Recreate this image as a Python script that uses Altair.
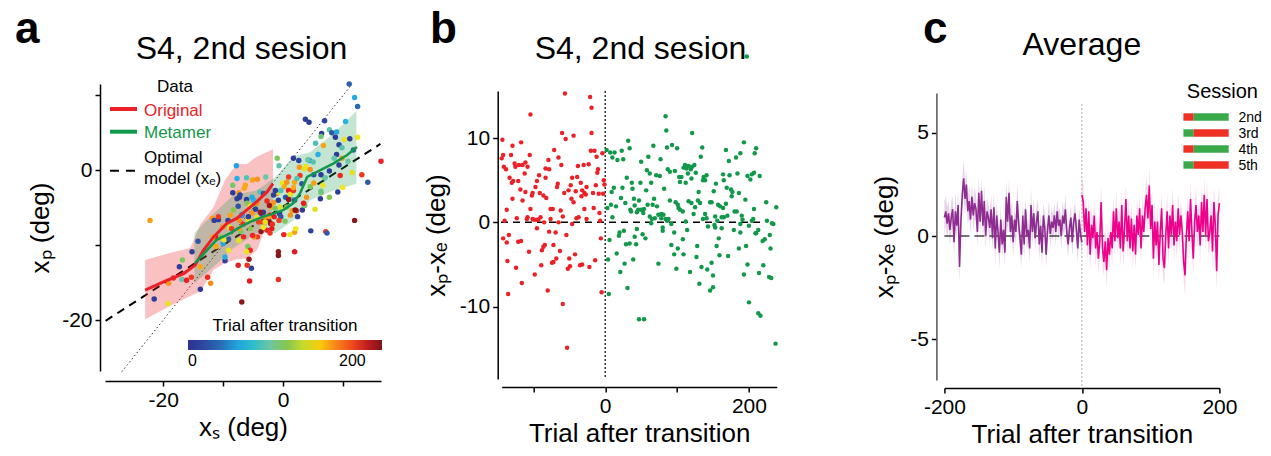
import altair as alt
import pandas as pd

FONT = "Liberation Sans"
RED = "#ec2027"
GREEN = "#12984a"
DUMMY = pd.DataFrame({"k": [0]})

# ---------------- Panel a data ----------------
a_xs = [-22.2, -21.5, -19.2, -19.1, -18.3, -17.3, -16.8, -16.9, -16.1, -15.3,
        -15.2, -13.8, -13.8, -14.2, -12.6, -12.1, -11.8, -11.2, -11.1, -10.8,
        -10.4, -10.1, -10.0, -9.7, -9.1, -9.1, -8.9, -8.8, -8.4, -8.4,
        -8.3, -7.8, -7.7, -7.7, -7.5, -7.4, -7.3, -7.1, -6.9, -6.7,
        -6.6, -6.3, -6.1, -6.1, -6.0, -5.9, -5.8, -5.5, -5.2, -5.1,
        -4.9, -4.7, -4.6, -4.4, -4.3, -4.9, -5.7, -5.6, -5.3, -6.0,
        -6.9, -7.5, -3.9, -3.3, -2.9, -2.7, -3.6, -3.4, -3.0, -2.4,
        -2.2, -2.1, -1.9, -1.6, -2.7, -3.7, -3.3, -4.1, -1.3, -1.1,
        -0.9, -0.8, -0.6, -0.4, -1.0, -0.7, -0.1, 0.2, 0.4, 0.6,
        0.6, 0.9, 1.2, 1.4, 1.5, 1.7, 1.9, 1.9, 2.2, 2.4,
        1.7, 2.6, 2.7, 3.5, 3.8, 2.8, 2.3, 3.1, 3.2, 1.9,
        1.1, 0.1, 1.9, -0.8, -0.8, -0.8, -0.7, -1.5, 3.6, 5.3,
        6.3, 7.7, 9.1, 9.9, 6.2, 4.6, 7.1, 7.3, 11.9, 3.7,
        4.3, 6.9, 11.0, 11.9, 12.4, 10.4, 7.7, 8.1, 8.9, 8.7,
        6.4, 6.3, 5.4, 6.7, 9.3, 10.2, 11.1, 12.4, 4.4, 5.8,
        8.9, 8.5, 9.8, 10.8, 11.7, 9.3, 9.5, 11.5, 13.1, 14.1,
        16.3, 6.9, 5.1, 4.5, 6.3, 7.7, 7.0, 6.6, 5.1, 6.3,
        4.5, 3.9, 3.4, 0.9, 1.7, -0.4, -1.3, -1.6, 0.9, -2.3,
        -0.5, 2.0, 1.2, -3.3, -2.4, -1.8, -1.9, -2.2, 0.3, 2.1,
        5.0, 4.1, 9.8, -7.3, -9.2, -11.7, -5.5, -4.3, -7.2, -6.5,
        -5.2, -4.4, -5.5, -5.8, -3.8, -3.0, -6.9, -8.6, -7.3, -5.1,
        -6.1, -7.4, -9.7, -9.9, -11.5, -10.8]
a_xp = [-6.7, -17.2, -17.8, -15.1, -14.4, -12.9, -12.0, -14.6, -14.7, -14.3,
        -10.9, -12.9, -15.9, -9.5, -14.3, -15.1, -6.4, -10.2, -9.0, -6.6,
        -8.9, -7.6, -9.8, -12.1, -9.2, -10.7, -7.6, -6.0, -3.0, -2.0,
        -5.3, 0.6, -1.1, -3.8, -4.8, -3.0, -6.7, -8.2, -6.0, -7.2,
        -8.9, -2.0, -1.0, -3.9, -4.4, -10.2, -6.6, -7.8, -5.7, -1.3,
        -4.0, -4.7, -5.2, -6.3, -8.9, -8.9, -11.9, -14.8, -13.1, -12.7,
        -17.6, -12.7, -2.9, -3.1, -0.9, -4.1, -5.8, -6.9, -6.2, -6.7,
        -6.0, -7.1, -4.9, -4.3, -8.0, -8.2, -7.6, -6.9, -5.1, -3.1,
        -2.9, -4.0, -5.8, -6.2, 1.6, 0.6, -1.7, -2.2, -3.6, -4.9,
        -1.6, -2.7, -3.2, -3.9, -5.4, -2.7, -1.6, -4.0, -5.4, -6.2,
        1.6, 1.3, 0.4, 0.2, 0.5, -0.7, -1.1, -1.8, -5.3, -8.3,
        -8.6, -8.6, -10.9, -10.9, -11.4, -14.6, -6.7, -6.2, -4.7, -5.2,
        -3.0, -3.6, -2.9, -2.3, -3.8, -8.1, -8.2, -8.4, -6.7, 6.8,
        6.4, 6.6, 11.5, 9.7, 8.5, 6.5, 5.4, 5.0, 5.1, 4.4,
        4.9, 4.5, 3.6, 3.3, 3.4, 4.1, 4.2, 4.4, 1.3, 2.1,
        2.1, 1.6, 1.6, 1.2, 2.7, 0.7, -0.7, -0.3, -0.6, -1.6,
        1.2, -1.0, -0.6, 0.1, -0.6, -0.1, -1.0, -2.0, -1.7, -2.8,
        -2.2, -3.6, -4.4, -0.9, -2.3, -2.7, -2.7, -3.3, -3.9, -4.7,
        -4.9, -5.3, -6.0, -5.6, -6.2, -7.2, -7.8, -8.4, -6.8, -7.8,
        1.1, 1.4, 3.0, -3.6, -6.7, -8.9, -10.7, -1.2, -3.3, -2.4,
        -3.6, -4.4, -4.8, -6.2, -5.6, -6.9, -5.9, -7.8, -7.8, -8.7,
        -10.9, -9.4, -11.6, -9.3, -6.7, -6.2]
a_trial = [172, 8, 150, 175, 205, 10, 118, 95, 208, 202,
           12, 170, 6, 30, 206, 178, 174, 169, 210, 9,
           120, 176, 62, 11, 32, 152, 148, 171, 7, 115,
           122, 60, 64, 13, 28, 173, 177, 117, 35, 204,
           207, 170, 90, 8, 119, 116, 151, 121, 175, 172,
           66, 113, 10, 149, 203, 178, 230, 208, 9, 205,
           232, 209, 92, 33, 97, 206, 12, 203, 176, 228,
           211, 234, 171, 174, 207, 231, 153, 201, 114, 177,
           147, 6, 14, 31, 118, 93, 152, 169, 29, 120,
           176, 209, 150, 96, 173, 204, 170, 34, 206, 11,
           7, 13, 175, 148, 154, 203, 91, 30, 9, 172,
           151, 207, 210, 229, 233, 205, 202, 208, 117, 149,
           116, 121, 10, 153, 8, 12, 204, 33, 231, 11,
           9, 14, 36, 63, 38, 65, 94, 31, 61, 7,
           10, 112, 88, 171, 12, 150, 8, 152, 60, 64,
           9, 95, 174, 98, 35, 11, 206, 148, 203, 32,
           207, 119, 30, 177, 6, 13, 96, 151, 172, 110,
           118, 175, 209, 202, 170, 90, 9, 12, 230, 227,
           149, 233, 176, 10, 173, 205, 210, 204, 117, 153,
           92, 97, 91, 7, 11, 172, 206, 175, 13, 169,
           62, 178, 150, 8, 229, 148, 60, 203, 171, 207,
           151, 149, 63, 152, 12, 204]

identity_xs = [-26.9, 11.5]
optimal_xs = [-29.6, 16.2]
optimal_xp = [-20.1, 3.5]

orig_line_x = [-23.0, -19.4, -16.6, -14.7, -13.3, -11.6, -9.4, -7.7, -6.05, -4.4, -2.7, -1.7]
orig_line_y = [-16.0, -14.7, -13.8, -12.7, -10.7, -8.9, -7.1, -6.4, -5.3, -4.2, -2.9, -1.8]
orig_band_x = [-23.0, -19.5, -15.5, -13.8, -11.6, -9.7, -7.7, -6.1, -4.4, -1.7]
orig_band_lo = [-19.9, -18.4, -16.8, -16.2, -13.3, -12.4, -11.9, -11.8, -10.7, -5.3]
orig_band_hi = [-12.0, -11.2, -10.4, -7.2, -4.9, -1.3, 0.9, 0.8, 1.8, 2.8]

meta_line_x = [-14.7, -11.1, -8.8, -7.2, -5.5, -3.3, -1.6, 0.06, 1.7, 2.8, 4.0, 6.2, 8.4, 10.6, 12.3]
meta_line_y = [-12.4, -9.3, -8.4, -7.6, -6.9, -6.2, -5.8, -5.3, -4.4, -3.1, -0.9, 0.0, 0.9, 2.0, 3.1]
meta_band_x = [-14.8, -11.6, -8.3, -4.4, -1.3, 1.7, 4.5, 8.4, 12.2]
meta_band_lo = [-15.1, -12.9, -10.4, -8.4, -8.4, -6.7, -4.0, -2.7, -1.8]
meta_band_hi = [-8.4, -5.8, -3.3, -2.7, -0.9, 1.8, 2.4, 4.9, 7.9]

trial_stops = [0, 33, 66, 99, 123, 153, 175, 208, 236]
trial_colors = ["#2e3190", "#2f5aa7", "#29b4e6", "#71c4a4", "#8dc63f",
                "#f3e61c", "#f7941d", "#ec1c24", "#7c1518"]

# ---------------- Panel b data ----------------
b_orig_trial = [-56, -21, -19, -104, -60, -19, -44, -143, -55, -117,
                -129, -71, -20, -15, -4, -142, -131, -105, -65, -12,
                -144, -79, -126, -111, -120, -115, -125, -108, -141, -61,
                -38, -30, -23, -83, -78, -138, -10, -112, -11, -92,
                -133, -83, -46, -39, -128, -121, -95, -130, -66, -34,
                -2, -67, -48, -97, -26, -13, -1, -118, -111, -101,
                -91, -51, -57, -41, -32, -29, -27, -102, -86, -82,
                -47, -33, -17, -9, -3, -129, -115, -44, -137, -104,
                -76, -73, -62, -29, -16, -8, -59, -140, -123, -109,
                -108, -101, -99, -95, -90, -93, -76, -85, -65, -46,
                -40, -37, -26, -7, -95, -142, -134, -137, -78, -69,
                -54, -6, -121, -117, -84, -86, -88, -72, -106, -63,
                -42, -136, -68, -72, -74, -50, -14, -89, -35, -32,
                -49, -52, -22, -124, -98, -116, -5, -80, -135, -59,
                -53]
b_orig_err = [15.3, 14.9, 13.6, 12.8, 10.6, 10.6, 10.3, 9.8, 9.9, 9.5,
              9.1, 8.6, 8.5, 8.5, 8.2, 8.0, 8.0, 8.0, 7.7, 7.8,
              7.6, 7.4, 7.0, 7.1, 6.8, 6.8, 6.6, 6.6, 6.6, 6.8,
              6.7, 6.8, 6.9, 6.4, 6.3, 6.3, 6.3, 5.8, 5.9, 5.6,
              5.3, 5.3, 5.3, 5.4, 4.9, 4.9, 4.9, 4.7, 4.6, 4.7,
              5.0, 4.2, 4.4, 4.2, 4.2, 4.4, 4.5, 3.9, 3.6, 3.5,
              3.5, 3.8, 3.5, 3.7, 3.8, 3.5, 3.3, 3.2, 3.2, 2.9,
              2.8, 3.1, 3.5, 3.4, 3.4, 2.8, 2.6, 2.4, 1.5, 1.6,
              1.6, 1.6, 1.4, 1.6, 1.7, 1.1, 0.7, 0.2, 0.5, 0.4,
              0.6, 0.4, 0.3, 0.3, 0.6, 0.3, 0.4, 0.0, 0.0, -0.2,
              0.5, 0.6, 0.4, 0.2, -0.7, -1.9, -1.5, -2.4, -1.1, -1.2,
              -1.5, -1.9, -2.3, -2.2, -2.7, -2.9, -3.3, -2.7, -3.5, -3.4,
              -3.8, -4.6, -4.3, -4.7, -4.8, -4.3, -4.5, -5.1, -5.1, -5.0,
              -5.2, -5.5, -5.3, -5.4, -6.2, -7.2, -8.3, -8.1, -8.5, -9.7,
              -14.9]
b_meta_trial = [84, 85, 121, 32, 193, 67, 93, 34, 86, 100,
                135, 2, 7, 13, 23, 168, 188, 208, 210, 10,
                17, 25, 60, 77, 133, 172, 182, 50, 116, 111,
                124, 121, 119, 113, 109, 87, 90, 97, 58, 115,
                126, 62, 71, 76, 30, 103, 106, 120, 137, 139,
                141, 136, 164, 173, 165, 184, 198, 202, 204, 207,
                215, 37, 49, 64, 104, 112, 154, 12, 24, 38,
                57, 82, 169, 175, 177, 9, 130, 151, 186, 176,
                22, 40, 47, 68, 90, 98, 101, 116, 120, 129,
                132, 146, 148, 157, 160, 164, 168, 195, 207, 15,
                28, 8, 3, 41, 35, 36, 44, 46, 50, 53,
                54, 59, 66, 72, 102, 104, 108, 125, 123, 139,
                10, 62, 65, 69, 74, 78, 81, 78, 84, 86,
                88, 92, 64, 80, 80, 112, 136, 141, 153, 156,
                162, 165, 170, 180, 183, 190, 191, 188, 200, 206,
                204, 213, 210, 143, 152, 153, 44, 26, 20, 19,
                52, 56, 41, 96, 108, 114, 162, 179, 188, 158,
                209, 6, 29, 34, 43, 92, 101, 128, 155, 186,
                196, 16, 96, 109, 159, 171, 127, 4, 39, 27,
                74, 198, 134, 148, 99, 21, 118, 142, 150, 214,
                193, 131, 150, 146, 31, 5, 200, 213, 47, 54,
                238, 232, 225, 224, 229, 230, 228, 231, 237, 219,
                222, 216, 220, 234, 197]
b_meta_err = [12.6, 10.9, 10.6, 9.7, 9.5, 9.1, 9.2, 8.8, 8.9, 8.8,
              8.9, 8.6, 8.3, 8.3, 8.5, 8.6, 8.2, 8.2, 8.8, 7.7,
              7.4, 7.5, 7.8, 7.5, 7.8, 7.3, 7.7, 7.2, 6.7, 6.8,
              6.8, 6.6, 6.3, 6.4, 6.5, 6.3, 6.0, 6.1, 6.2, 5.8,
              5.9, 5.8, 5.6, 5.5, 5.3, 5.4, 5.4, 5.2, 5.4, 5.0,
              5.6, 5.0, 5.7, 5.6, 5.0, 5.8, 5.5, 5.1, 5.7, 5.9,
              5.5, 4.7, 4.7, 4.7, 4.8, 4.7, 4.6, 4.1, 4.1, 4.0,
              3.8, 4.0, 4.1, 3.9, 3.6, 3.6, 3.6, 3.7, 3.5, 3.1,
              2.9, 2.8, 2.6, 2.8, 2.6, 2.4, 2.1, 2.5, 2.3, 2.6,
              2.3, 2.4, 2.4, 2.1, 1.9, 1.7, 2.2, 2.7, 1.6, 1.9,
              2.3, 2.1, 1.7, 2.0, 1.5, 1.3, 1.2, 1.5, 1.5, 1.1,
              1.6, 2.1, 2.1, 1.9, 1.7, 1.5, 1.3, 1.8, 1.0, 1.0,
              0.6, 0.7, 0.4, 0.5, 0.9, 1.0, 0.9, 0.5, 0.4, 0.2,
              0.4, -0.2, -0.1, -0.6, -1.0, 0.1, 0.4, 0.5, 0.7, 0.2,
              0.6, 0.6, 0.8, 1.3, 1.3, 0.8, 0.3, -0.2, -0.4, 0.4,
              0.2, -0.9, -1.3, -0.5, -0.3, -0.6, -0.8, -1.0, -1.2, -1.6,
              -1.4, -1.9, -1.7, -1.2, -2.0, -0.9, -0.7, -0.9, -1.2, -1.9,
              -1.3, -2.1, -2.6, -2.5, -2.6, -2.7, -3.1, -2.8, -2.8, -3.1,
              -2.8, -3.7, -3.8, -3.8, -3.9, -4.0, -4.1, -4.4, -4.4, -4.9,
              -4.9, -5.0, -5.3, -4.8, -5.5, -5.9, -5.9, -5.6, -6.3, -6.0,
              -6.2, -7.3, -7.7, -8.1, -7.8, -8.5, -9.5, -10.8, -11.5, -11.5,
              1.8, -0.1, 0.2, 2.4, -1.5, -3.1, -6.5, -6.6, -14.4, -2.2,
              -2.0, -11.1, -5.1, -0.2, 19.7]

# ---------------- Panel c data ----------------
c_pre_trial = list(range(-200, 1, 2))
c_pre_mean = [0.9, 1.2, 0.6, 1.1, 0.3, 0.9, 1.3, -0.3, 1.2, 0.5,
              1.5, -1.5, 0.7, 2.0, 2.8, 1.8, 2.5, 1.2, 1.7, 0.8,
              1.9, 1.0, 1.6, 1.3, 0.2, 2.1, 0.7, 2.2, 0.5, 1.7,
              0.0, 1.2, 0.9, 0.4, 1.3, -0.1, 1.4, -0.6, 1.0, 0.2,
              -0.8, 0.8, -0.4, 0.3, -0.8, 1.9, 0.7, 2.1, 0.2, 1.0,
              -0.3, 0.8, 0.2, 1.7, 0.6, -0.1, -0.9, 1.0, -0.4, 1.3,
              0.0, 0.3, -0.6, 1.5, 0.2, 1.1, -0.1, 0.7, 1.2, -0.4,
              0.5, -0.8, 1.0, 0.4, -0.9, 0.3, 1.0, 0.1, 0.7, 0.4,
              1.0, 0.2, 1.2, 0.5, 0.8, 0.0, 1.0, 0.6, 1.3, 0.2,
              -0.4, 0.4, 0.9, -0.3, 0.7, 1.1, 0.3, -0.6, 0.8, 0.1,
              -0.3]
c_pre_sem = [0.8, 0.7, 0.8, 0.6, 0.7, 0.8, 0.6, 0.7, 0.9, 0.6,
             0.7, 0.8, 0.6, 0.7, 0.9, 0.8, 0.7, 0.6, 0.8, 0.7,
             0.6, 0.7, 0.8, 0.6, 0.7, 0.8, 0.7, 0.6, 0.7, 0.8,
             0.6, 0.7, 0.6, 0.8, 0.7, 0.6, 0.7, 0.8, 0.6, 0.7,
             0.8, 0.6, 0.7, 0.6, 0.7, 0.8, 0.6, 0.7, 0.6, 0.8,
             0.7, 0.6, 0.7, 0.8, 0.6, 0.7, 0.6, 0.7, 0.8, 0.6,
             0.7, 0.6, 0.7, 0.8, 0.6, 0.7, 0.6, 0.7, 0.6, 0.8,
             0.6, 0.7, 0.6, 0.7, 0.6, 0.6, 0.7, 0.6, 0.7, 0.6,
             0.6, 0.7, 0.6, 0.7, 0.6, 0.6, 0.7, 0.6, 0.7, 0.6,
             0.6, 0.5, 0.6, 0.7, 0.6, 0.5, 0.6, 0.7, 0.6, 0.5,
             0.6]
c_post_trial = list(range(0, 201, 2))
c_post_mean = [2.0, 1.65, 0.2, 1.35, -0.45, 1.2, -0.9, 0.55, -0.1, 1.0,
               -0.6, 0.2, -1.1, -0.25, 1.65, -0.6, -1.25, -0.25, -1.65, -0.1,
               -0.9, 0.2, -0.6, 1.2, -0.25, 1.35, -0.1, 0.7, -0.6, 1.5,
               -0.75, 0.35, 1.8, -0.25, 1.0, -0.6, 0.85, -0.75, 0.55, -0.9,
               1.0, 0.05, 1.35, -0.6, 1.0, 0.2, 1.35, 2.0, 0.85, 2.45,
               0.35, 1.5, -1.1, 0.7, -0.45, 0.7, -1.4, 0.2, 1.35, -1.1,
               -1.55, 0.05, 1.2, -0.6, 1.0, 0.05, 1.5, -0.45, 0.7, -0.25,
               1.35, 0.05, 1.0, 0.2, -1.25, -1.9, 0.05, 1.2, -0.25, 1.8,
               0.2, -1.1, 0.7, 1.5, 0.2, 1.0, -0.45, 1.65, 0.2, 2.0,
               0.05, 1.8, -0.25, 0.2, 1.0, -0.75, 1.65, 0.55, -1.7, 1.0,
               1.6]
c_post_sem = [0.8, 0.9, 0.7, 0.8, 0.9, 0.7, 0.8, 0.9, 0.8, 0.7,
              0.9, 0.8, 0.7, 0.9, 0.8, 0.9, 0.7, 0.8, 0.9, 0.8,
              0.7, 0.8, 0.9, 0.7, 0.8, 0.9, 0.8, 0.7, 0.9, 0.8,
              0.8, 0.9, 0.7, 0.8, 0.9, 0.8, 0.7, 0.9, 0.8, 0.7,
              0.9, 0.8, 0.7, 0.8, 0.9, 0.7, 0.8, 0.9, 0.8, 0.9,
              0.7, 0.8, 0.9, 0.8, 0.7, 0.9, 0.8, 0.7, 0.8, 0.9,
              0.8, 0.7, 0.9, 0.8, 0.7, 0.8, 0.9, 0.8, 0.7, 0.9,
              0.8, 0.9, 0.7, 0.8, 0.9, 1.0, 0.8, 0.7, 0.9, 0.8,
              0.9, 0.8, 0.7, 0.9, 0.8, 0.7, 0.9, 0.8, 0.7, 0.9,
              0.8, 0.9, 0.7, 0.8, 0.9, 0.8, 0.7, 0.9, 1.0, 0.8,
              0.8]
sessions = ["2nd", "3rd", "4th", "5th"]
session_first = ["red", "green", "red", "green"]
SES_RED = "#ee3124"
SES_GREEN = "#39a94a"


# ---------------- helpers ----------------
def txt(s, x, y, size, color="black", align="left", baseline="alphabetic", weight="normal"):
    return alt.Chart(DUMMY).mark_text(
        text=s, font=FONT, fontSize=size, color=color, align=align,
        baseline=baseline, fontWeight=weight
    ).encode(x=alt.value(x), y=alt.value(y))


def seg(x1, x2, y, color, width, dash=None, opacity=1.0):
    kw = dict(color=color, strokeWidth=width, opacity=opacity)
    if dash:
        kw["strokeDash"] = dash
    return alt.Chart(DUMMY).mark_rule(**kw).encode(
        x=alt.value(x1), x2=alt.value(x2), y=alt.value(y))


def box(x1, x2, y1, y2, color):
    return alt.Chart(DUMMY).mark_rect(color=color).encode(
        x=alt.value(x1), x2=alt.value(x2), y=alt.value(y1), y2=alt.value(y2))


def axis(title, values, offset, label_expr="toString(datum.value)", **kw):
    args = dict(title=title, values=values, offset=offset, grid=False,
                domainColor="black", domainWidth=1.5, tickColor="black",
                tickWidth=1.5, tickSize=5, labelFontSize=21, titleFontSize=26,
                labelFont=FONT, titleFont=FONT, titleFontWeight="normal",
                labelColor="black", titleColor="black", labelPadding=3,
                labelFlush=False, labelExpr=label_expr)
    args.update(kw)
    return alt.Axis(**args)


# ---------------- Panel a ----------------
sxa = alt.Scale(domain=[-29.7, 16.3], nice=False, zero=False)
sya = alt.Scale(domain=[-26.8, 11.5], nice=False, zero=False)
axa_x = axis("xₛ (deg)", [-20, -10, 0, 10], 10,
             "datum.value % 20 == 0 ? toString(datum.value) : ''", titlePadding=4)
axa_y = axis("xₚ (deg)", [10, 0, -10, -20], 5,
             "datum.value % 20 == 0 ? toString(datum.value) : ''", titlePadding=8)


def XA(f="x"):
    return alt.X(f"{f}:Q", scale=sxa, axis=axa_x)


def YA(f="y"):
    return alt.Y(f"{f}:Q", scale=sya, axis=axa_y)


ident = alt.Chart(pd.DataFrame({"x": identity_xs, "y": identity_xs})).mark_line(
    color="black", strokeWidth=0.8, strokeDash=[1.5, 2.5]).encode(x=XA(), y=YA())
optimal = alt.Chart(pd.DataFrame({"x": optimal_xs, "y": optimal_xp})).mark_line(
    color="black", strokeWidth=2, strokeDash=[8, 6]).encode(x=XA(), y=YA())
orig_band = alt.Chart(pd.DataFrame({"x": orig_band_x, "lo": orig_band_lo, "hi": orig_band_hi})).mark_area(
    color=RED, opacity=0.28).encode(x=XA(), y=YA("lo"), y2=alt.Y2("hi"))
meta_band = alt.Chart(pd.DataFrame({"x": meta_band_x, "lo": meta_band_lo, "hi": meta_band_hi})).mark_area(
    color=GREEN, opacity=0.25).encode(x=XA(), y=YA("lo"), y2=alt.Y2("hi"))
orig_line = alt.Chart(pd.DataFrame({"x": orig_line_x, "y": orig_line_y})).mark_line(
    color=RED, strokeWidth=3).encode(x=XA(), y=YA())
meta_line = alt.Chart(pd.DataFrame({"x": meta_line_x, "y": meta_line_y})).mark_line(
    color=GREEN, strokeWidth=2.5).encode(x=XA(), y=YA())
pts_a = alt.Chart(pd.DataFrame({"x": a_xs, "y": a_xp, "trial": a_trial})).mark_circle(
    size=30, opacity=1).encode(
    x=XA(), y=YA(),
    color=alt.Color("trial:Q", scale=alt.Scale(domain=trial_stops, range=trial_colors),
                    legend=alt.Legend(orient="none", legendX=83, legendY=234,
                                      direction="horizontal", gradientLength=194,
                                      gradientThickness=10, title="Trial after transition",
                                      titleFontSize=17, titleFont=FONT, titleFontWeight="normal",
                                      titleColor="black", titleAnchor="middle", titlePadding=5,
                                      labelFontSize=16, labelFont=FONT, labelColor="black",
                                      values=[0, 200], labelOffset=3, labelAlign="center")))

panel_a = alt.layer(
    ident, optimal, orig_band, meta_band, pts_a, orig_line, meta_line,
    txt("Data", 70, 3, 17, align="center", baseline="middle"),
    seg(5, 32, 25, RED, 4),
    txt("Original", 39, 31.7, 17, color=RED),
    seg(5, 32, 47.7, GREEN, 4),
    txt("Metamer", 39, 54.3, 17, color=GREEN),
    seg(5, 30, 86.7, "black", 2, dash=[9, 7]),
    txt("Optimal", 39, 78.7, 17),
    txt("model (xₑ)", 39, 100.3, 17),
    txt("a", -90, -41, 44, weight="bold"),
    txt("S4, 2nd sesion", 136.5, -25, 32, align="center"),
    seg(-105, -104, -84, "white", 0.01, opacity=0),
).properties(width=276, height=287)

# ---------------- Panel b ----------------
sxb = alt.Scale(domain=[-144, 238.6], range=[0, 275], nice=False, zero=False)
syb = alt.Scale(domain=[-18.6, 15.6], range=[295, 7], nice=False, zero=False)
axb_x = axis("Trial after transition", [-100, 0, 100, 200], 8,
             "datum.value % 200 == 0 ? toString(datum.value) : ''", titlePadding=4)
axb_y = axis("xₚ-xₑ (deg)", [-10, 0, 10], 4, titlePadding=10)


def XB(f="x"):
    return alt.X(f"{f}:Q", scale=sxb, axis=axb_x)


def YB(f="y"):
    return alt.Y(f"{f}:Q", scale=syb, axis=axb_y)


b_df = pd.DataFrame({
    "x": b_orig_trial + b_meta_trial,
    "y": b_orig_err + b_meta_err,
    "g": ["Original"] * len(b_orig_trial) + ["Metamer"] * len(b_meta_trial),
})
vline_b = alt.Chart(pd.DataFrame({"x": [0], "y": [15.6], "y2": [-18.6]})).mark_rule(
    color="black", strokeWidth=1.2, strokeDash=[2, 2]).encode(x=XB(), y=YB(), y2=alt.Y2("y2"))
hline_b = alt.Chart(pd.DataFrame({"x": [-145], "x2": [218], "y": [0]})).mark_rule(
    color="black", strokeWidth=1.5, strokeDash=[7, 5]).encode(x=XB(), x2=alt.X2("x2"), y=YB())
pts_b = alt.Chart(b_df).mark_circle(size=20, opacity=1).encode(
    x=XB(), y=YB(),
    color=alt.Color("g:N", scale=alt.Scale(domain=["Original", "Metamer"], range=[RED, GREEN]),
                    legend=None))

panel_b = alt.layer(
    vline_b, hline_b, pts_b,
    txt("b", -71.7, -41, 44, weight="bold"),
    txt("S4, 2nd sesion", 138.8, -25, 32, align="center"),
).properties(width=321.6, height=295)

# ---------------- Panel c ----------------
sxc = alt.Scale(domain=[-200, 200], nice=False, zero=False)
syc = alt.Scale(domain=[-6.97, 6.93], range=[296, 9], nice=False, zero=False)
axc_x = axis("Trial after transition", [-200, 0, 200], 8, titlePadding=4)
axc_y = axis("xₚ-xₑ (deg)", [-5, 0, 5], 8, titlePadding=12, domainColor="#555")


def XC(f="x"):
    return alt.X(f"{f}:Q", scale=sxc, axis=axc_x)


def YC(f="y"):
    return alt.Y(f"{f}:Q", scale=syc, axis=axc_y)


pre_df = pd.DataFrame({"x": c_pre_trial, "y": c_pre_mean, "sem": c_pre_sem})
pre_df["lo"] = pre_df["y"] - pre_df["sem"]
pre_df["hi"] = pre_df["y"] + pre_df["sem"]
post_df = pd.DataFrame({"x": c_post_trial, "y": c_post_mean, "sem": c_post_sem})
post_df["lo"] = post_df["y"] - post_df["sem"]
post_df["hi"] = post_df["y"] + post_df["sem"]

band_pre = alt.Chart(pre_df).mark_area(color="#b77fbf", opacity=0.35).encode(
    x=XC(), y=YC("lo"), y2=alt.Y2("hi"))
band_post = alt.Chart(post_df).mark_area(color="#f47ab9", opacity=0.3).encode(
    x=XC(), y=YC("lo"), y2=alt.Y2("hi"))
zero_c = alt.Chart(pd.DataFrame({"x": [-200], "x2": [200], "y": [0]})).mark_rule(
    color="#444", strokeWidth=1.5, strokeDash=[10, 5]).encode(x=XC(), x2=alt.X2("x2"), y=YC())
vline_c = alt.Chart(pd.DataFrame({"x": [0], "y": [6.4], "y2": [-7.35]})).mark_rule(
    color="#aaa", strokeWidth=1, strokeDash=[2, 2]).encode(x=XC(), y=YC(), y2=alt.Y2("y2"))
line_pre = alt.Chart(pre_df).mark_line(color="#8e2c90", strokeWidth=1.6).encode(x=XC(), y=YC())
line_post = alt.Chart(post_df).mark_line(color="#ec008c", strokeWidth=1.6).encode(x=XC(), y=YC())

legend_c = [txt("Session", 278, 14.3, 20, align="center")]
for i, (s, first) in enumerate(zip(sessions, session_first)):
    yc = 33 + 16 * i
    c1, c2 = (SES_RED, SES_GREEN) if first == "red" else (SES_GREEN, SES_RED)
    legend_c.append(box(239, 249.3, yc - 3.7, yc + 3.7, c1))
    legend_c.append(box(249.3, 284.3, yc - 3.7, yc + 3.7, c2))
    legend_c.append(txt(s, 294, yc + 4.7, 14))

panel_c = alt.layer(
    band_pre, band_post, zero_c, vline_c, line_pre, line_post,
    *legend_c,
    txt("c", -21.3, -41, 44, weight="bold"),
    txt("Average", 137.5, -29, 32, align="center"),
).properties(width=275, height=296)

chart = alt.hconcat(panel_a, panel_b, panel_c, spacing=120.7, bounds="flush").properties(
    padding=0, background="white").configure_view(stroke=None)

chart.save("out.html", embed_options={"renderer": "svg", "actions": False})
